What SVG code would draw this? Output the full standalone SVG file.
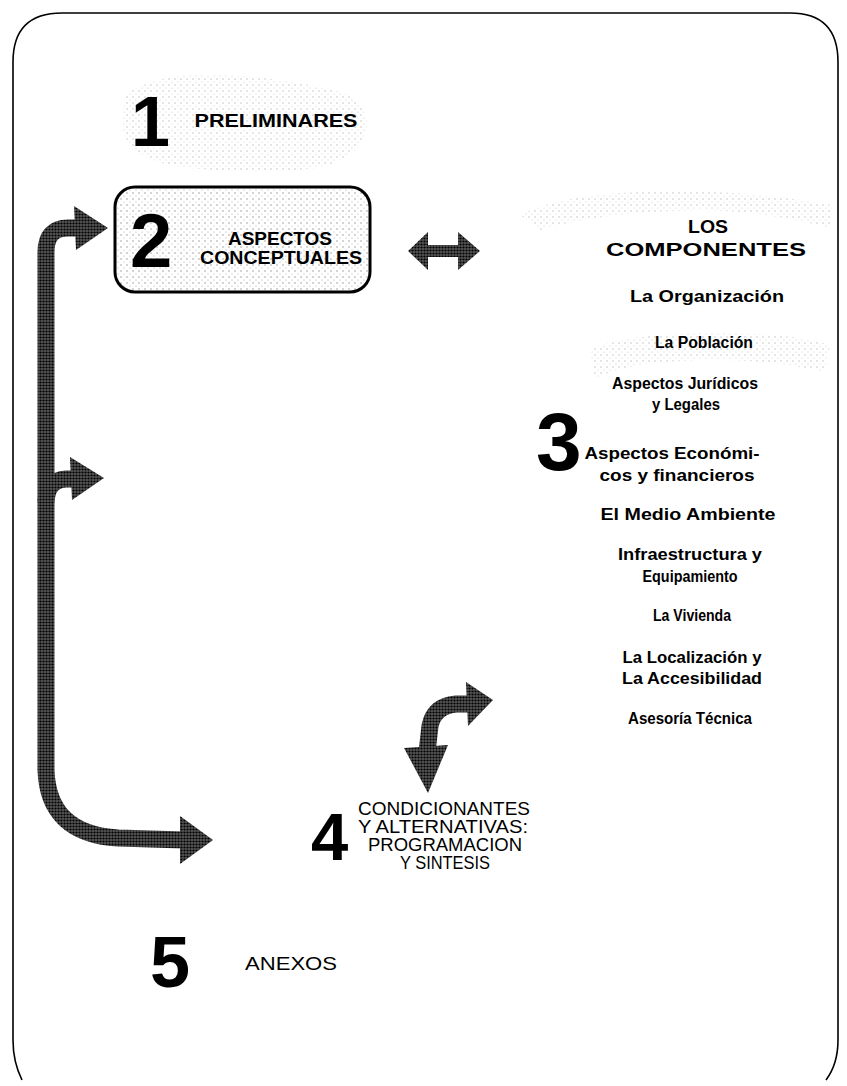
<svg xmlns="http://www.w3.org/2000/svg" width="847" height="1086" viewBox="0 0 847 1086">
<defs>
<pattern id="dots" width="6" height="6" patternUnits="userSpaceOnUse"><circle cx="1" cy="1" r="0.7" fill="#888"/><circle cx="4" cy="4" r="0.6" fill="#aaa"/></pattern>
<pattern id="ht" width="3" height="3" patternUnits="userSpaceOnUse"><rect width="3" height="3" fill="#555"/><circle cx="1.5" cy="1.5" r="1.1" fill="#000"/></pattern>
<style>
.num{font-family:"Liberation Sans",Arial,sans-serif;font-weight:bold;fill:#000}
.t{font-family:"Liberation Sans",Arial,sans-serif;font-weight:bold;fill:#000;text-anchor:middle}
.c{font-size:16px}
.h{font-size:19px}
.r{font-family:"Liberation Sans",Arial,sans-serif;fill:#000;text-anchor:middle;font-size:18px}
.arrow{fill:url(#ht)}
.shaft{fill:none;stroke:url(#ht);stroke-width:17}
.blob{fill:url(#dots);opacity:0.6}
</style>
</defs>
<rect width="847" height="1086" fill="#fff"/>
<path d="M 22 1080 Q 13 1062 13 1040 L 13 62 Q 13 13 62 13 L 790 13 Q 838 13 838 62 L 838 1040 Q 838 1064 826 1080" fill="none" stroke="#000" stroke-width="1.6"/>

<g id="node1">
<path class="blob" d="M 125 95 Q 160 70 230 75 Q 300 80 350 95 Q 372 110 365 135 Q 355 165 300 170 Q 230 175 170 165 Q 125 155 122 125 Z"/>
<text class="num" x="131" y="146" font-size="70">1</text>
<text class="t h" x="276" y="127" textLength="163" lengthAdjust="spacingAndGlyphs">PRELIMINARES</text>
</g>

<g id="node2">
<rect x="115" y="187" width="255" height="105" rx="20" fill="url(#dots)" stroke="#000" stroke-width="3"/>
<text class="num" x="130" y="267" font-size="76">2</text>
<text class="t h" x="280" y="245" textLength="104" lengthAdjust="spacingAndGlyphs">ASPECTOS</text>
<text class="t h" x="281" y="264" textLength="162" lengthAdjust="spacingAndGlyphs">CONCEPTUALES</text>
</g>

<g id="node3">
<path class="blob" d="M 520 215 Q 560 195 640 192 Q 740 188 832 205 L 830 228 Q 760 210 700 210 Q 600 212 540 230 Z"/>
<path class="blob" d="M 590 350 Q 620 335 700 333 Q 790 332 830 345 L 825 372 Q 760 358 700 360 Q 630 362 595 378 Z"/>
<text class="num" x="536" y="470" font-size="82">3</text>
<text class="t h" x="708" y="233" textLength="40" lengthAdjust="spacingAndGlyphs">LOS</text>
<text class="t h" x="706" y="256" textLength="200" lengthAdjust="spacingAndGlyphs">COMPONENTES</text>
<text class="t c" x="707" y="302" textLength="154" lengthAdjust="spacingAndGlyphs">La Organización</text>
<text class="t c" x="704" y="348" textLength="98" lengthAdjust="spacingAndGlyphs">La Población</text>
<text class="t c" x="685" y="389" textLength="146" lengthAdjust="spacingAndGlyphs">Aspectos Jurídicos</text>
<text class="t c" x="686" y="410" textLength="68" lengthAdjust="spacingAndGlyphs">y Legales</text>
<text class="t c" x="672" y="459" textLength="175" lengthAdjust="spacingAndGlyphs">Aspectos Económi-</text>
<text class="t c" x="677" y="481" textLength="155" lengthAdjust="spacingAndGlyphs">cos y financieros</text>
<text class="t c" x="688" y="520" textLength="175" lengthAdjust="spacingAndGlyphs">El Medio Ambiente</text>
<text class="t c" x="690" y="560" textLength="144" lengthAdjust="spacingAndGlyphs">Infraestructura y</text>
<text class="t c" x="690" y="582" textLength="95" lengthAdjust="spacingAndGlyphs">Equipamiento</text>
<text class="t c" x="692" y="621" textLength="78" lengthAdjust="spacingAndGlyphs">La Vivienda</text>
<text class="t c" x="692" y="663" textLength="139" lengthAdjust="spacingAndGlyphs">La Localización y</text>
<text class="t c" x="692" y="684" textLength="140" lengthAdjust="spacingAndGlyphs">La Accesibilidad</text>
<text class="t c" x="690" y="724" textLength="124" lengthAdjust="spacingAndGlyphs">Asesoría Técnica</text>
</g>

<g id="node4">
<text class="num" x="311" y="860" font-size="67">4</text>
<text class="r" x="444" y="815" textLength="172" lengthAdjust="spacingAndGlyphs">CONDICIONANTES</text>
<text class="r" x="443" y="833" textLength="170" lengthAdjust="spacingAndGlyphs">Y ALTERNATIVAS:</text>
<text class="r" x="445" y="851" textLength="154" lengthAdjust="spacingAndGlyphs">PROGRAMACION</text>
<text class="r" x="445" y="869" textLength="90" lengthAdjust="spacingAndGlyphs">Y SINTESIS</text>
</g>

<g id="node5">
<text class="num" x="150" y="987" font-size="72">5</text>
<text class="r" x="291" y="970" font-size="16" textLength="92" lengthAdjust="spacingAndGlyphs">ANEXOS</text>
</g>

<g id="connectors">
<path class="shaft" d="M 78 228 L 68 228 Q 46 228 46 252 L 46 770 Q 48 834 118 838 L 184 840"/>
<path class="shaft" d="M 46 502 Q 47 480 66 479 L 76 479"/>
<polygon class="arrow" points="74,206 108,228 76,250"/>
<polygon class="arrow" points="70,457 104,478 72,500"/>
<polygon class="arrow" points="180,816 213,840 180,864"/>
<polygon class="arrow" points="408,251 428,232 428,245 458,245 458,232 480,251 458,270 458,257 428,257 428,270"/>
<path class="shaft" d="M 427 752 L 430 726 Q 434 706 456 704 L 470 704"/>
<polygon class="arrow" points="466,682 493,700 468,726"/>
<polygon class="arrow" points="404,748 448,745 428,793"/>
</g>
</svg>
